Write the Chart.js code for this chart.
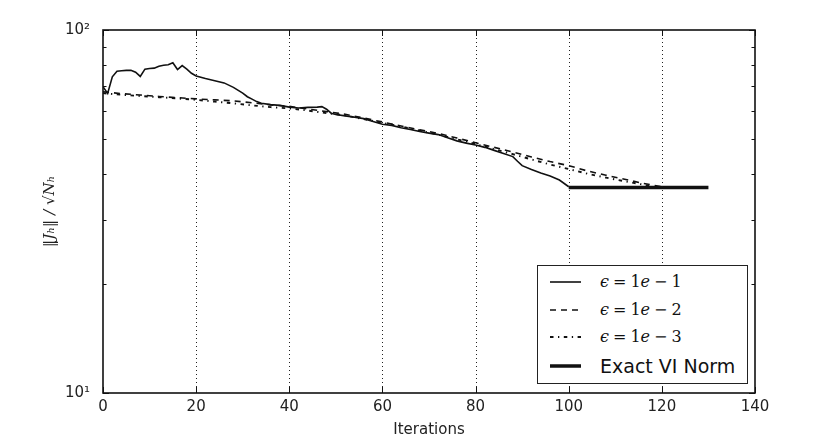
<!DOCTYPE html>
<html><head><meta charset="utf-8">
<script src="https://cdn.jsdelivr.net/npm/chart.js@4"></script>
<style>
html,body{margin:0;padding:0;background:#fff;}
#wrap{position:relative;width:834px;height:434px;}
#legend{position:absolute;left:537px;top:265px;width:211px;height:119px;border:1.5px solid #222;background:#fff;box-sizing:border-box;}
.row{position:absolute;left:0;height:28px;width:100%;}
.row svg{position:absolute;left:12px;top:0;}
.row span{position:absolute;left:62px;top:0;line-height:28px;white-space:nowrap;color:#111;}
.math{font-family:"DejaVu Serif",serif;font-size:16px;}
.math i{font-style:italic;}
.sym{margin:0 4px;font-weight:normal;}
.plain{font-family:"DejaVu Sans",sans-serif;font-size:19px;}
</style></head>
<body><div id="wrap"><canvas id="c" width="834" height="434"></canvas><div id="legend"></div></div>
<script>
// ---- data ----
const iterEps1 = [0,1,2,3,4,5,6,7,8,9,10,11,12,13,14,15,16,17,18,19,20,22,24,26,28,30,31,32,33,34,36,38,40,42,44,46,47,48,49,50,52,54,56,58,60,62,64,66,68,70,72,74,76,78,80,82,84,86,88,89,90,92,94,96,98,100];
const normEps1 = [69.8,66.9,74.3,77,77.2,77.4,77.5,76.5,74.5,78,78.3,78.5,79.5,80,80.2,81.2,77.8,79.8,78,76,74.7,73.5,72.5,71.5,69.5,67,65.5,64.5,63.5,62.8,62.3,62,61.3,61,61.2,61.3,61.5,60.5,59,58.5,58,57.5,57,56,55,54.6,53.8,53.2,52.5,52,51.5,50.5,49.5,48.8,48.2,47.5,46.6,45.7,44.8,43.5,42.3,41.3,40.4,39.6,38.6,37];
const iterEps2 = [0,4,8,12,16,20,24,28,32,36,40,44,48,52,56,60,64,68,72,76,80,84,88,92,96,100,104,108,112,116,120];
const normEps2 = [67.6,66.8,66.2,65.6,65.1,64.6,64.2,63.8,63,62.2,61.6,60.6,59.6,58.6,57.2,55.8,54.4,53.1,51.9,50.4,48.9,47.5,46.1,44.7,43.4,42.3,40.9,39.8,38.8,37.8,37];
const iterEps3 = [0,4,8,12,16,20,24,28,32,36,40,44,48,52,56,60,64,68,72,76,80,84,88,92,96,100,104,108,112,116,118];
const normEps3 = [67,66.3,65.8,65.3,64.8,64.2,63.5,62.8,62,61.3,60.8,60,59,58.2,56.8,55.5,54.2,52.8,51.5,50,48.5,47,45.5,44,42.6,41.4,40.2,39.2,38.3,37.5,37];
const iterExact = [100,130];
const normExact = [36.8,36.8];
const xTickValues = [0,20,40,60,80,100,120,140];
const yTickValues = [10,20,30,40,50,60,70,80,90,100];
const yTickLabels = {10:'10¹',100:'10²'};
const seriesNames = ['ϵ = 1e − 1','ϵ = 1e − 2','ϵ = 1e − 3','Exact VI Norm'];
const xTitle = 'Iterations';
const yTitle = '‖Jₕ‖ / √Nₕ';

const pts = (xs, ys) => xs.map((x, i) => ({x, y: ys[i]}));
const styles = [
  {w:1.6, dash:[]},
  {w:1.6, dash:[6,5]},
  {w:1.9, dash:[3.5,4.5,1.3,4.5]},
  {w:3.5, dash:[]}
];
const seriesData = [pts(iterEps1,normEps1), pts(iterEps2,normEps2), pts(iterEps3,normEps3), pts(iterExact,normExact)];

const framePlugin = {
  id:'frame',
  beforeDatasetsDraw(chart){
    const {ctx, chartArea:a, scales:{x}} = chart;
    ctx.save();
    ctx.strokeStyle = '#222'; ctx.lineWidth = 1; ctx.setLineDash([1,3]);
    ctx.beginPath();
    x.ticks.forEach(t => {
      if (t.value <= x.min || t.value >= x.max) return;
      const px = Math.round(x.getPixelForValue(t.value)) + 0.5;
      ctx.moveTo(px, a.top); ctx.lineTo(px, a.bottom);
    });
    ctx.stroke();
    ctx.restore();
  },
  afterDatasetsDraw(chart){
    const {ctx, chartArea:a, scales:{x,y}} = chart;
    ctx.save();
    ctx.strokeStyle = '#111'; ctx.setLineDash([]); ctx.lineWidth = 1;
    ctx.beginPath();
    x.ticks.forEach(t => {
      const px = Math.round(x.getPixelForValue(t.value)) + 0.5;
      ctx.moveTo(px, a.bottom); ctx.lineTo(px, a.bottom - 6);
      ctx.moveTo(px, a.top); ctx.lineTo(px, a.top + 6);
    });
    y.ticks.forEach(t => {
      const py = Math.round(y.getPixelForValue(t.value)) + 0.5;
      const L = (t.value === 10 || t.value === 100) ? 6 : 3.5;
      ctx.moveTo(a.left, py); ctx.lineTo(a.left + L, py);
      ctx.moveTo(a.right, py); ctx.lineTo(a.right - L, py);
    });
    ctx.stroke();
    ctx.lineWidth = 1.6;
    ctx.strokeRect(Math.round(a.left), Math.round(a.top), Math.round(a.right - a.left), Math.round(a.bottom - a.top));
    ctx.restore();
  }
};

new Chart(document.getElementById('c'), {
  type:'line',
  data:{
    datasets: seriesData.map((d, i) => ({
      label: seriesNames[i], data: d,
      borderColor:'#111', backgroundColor:'#111',
      borderWidth: styles[i].w, borderDash: styles[i].dash,
      pointRadius:0, tension:0, fill:false
    }))
  },
  options:{
    responsive:false, animation:false, devicePixelRatio:1,
    layout:{padding:{top:30,right:79,left:0,bottom:0}},
    plugins:{legend:{display:false}, tooltip:{enabled:false}},
    scales:{
      x:{type:'linear', min:0, max:140,
        afterBuildTicks(s){ s.ticks = xTickValues.map(v => ({value:v})); },
        grid:{display:false}, border:{display:false},
        ticks:{color:'#222', font:{family:'DejaVu Sans', size:15}, padding:-3, maxRotation:0, autoSkip:false},
        title:{display:true, text:xTitle, color:'#222', font:{family:'DejaVu Sans', size:15}, padding:{top:0,bottom:-5}},
        afterFit(s){ s.height = 41; }
      },
      y:{type:'logarithmic', min:10, max:100,
        afterBuildTicks(s){ s.ticks = yTickValues.map(v => ({value:v})); },
        grid:{display:false}, border:{display:false},
        ticks:{autoSkip:false, color:'#222', font:{family:'DejaVu Sans', size:15}, padding:5,
          callback:(v) => yTickLabels[v] || ''},
        title:{display:true, text:yTitle, color:'#222', font:{family:'DejaVu Serif', style:'italic', size:15}, padding:{top:41,bottom:0}},
        afterFit(s){ s.width = 103; }
      }
    }
  },
  plugins:[framePlugin]
});

// legend (HTML text)
const rowTops = [2, 30, 57, 86];
const fmt = s => s.replace('ϵ', '<i>ϵ</i>').replace(/(\d)e/, '$1<i>e</i>')
  .replace(' = ', '<b class="sym">=</b>').replace(' − ', '<b class="sym">−</b>');
const leg = document.getElementById('legend');
seriesNames.forEach((name, i) => {
  const row = document.createElement('div');
  row.className = 'row'; row.style.top = rowTops[i] + 'px';
  const dash = styles[i].dash.length ? ` stroke-dasharray="${styles[i].dash.join(',')}"` : '';
  row.innerHTML = `<svg width="32" height="28"><line x1="0" y1="14" x2="31" y2="14" stroke="#111" stroke-width="${styles[i].w}"${dash}/></svg>` +
    (name.indexOf('ϵ') === 0 ? `<span class="math">${fmt(name)}</span>` : `<span class="plain">${name}</span>`);
  leg.appendChild(row);
});
</script>
</body></html>
